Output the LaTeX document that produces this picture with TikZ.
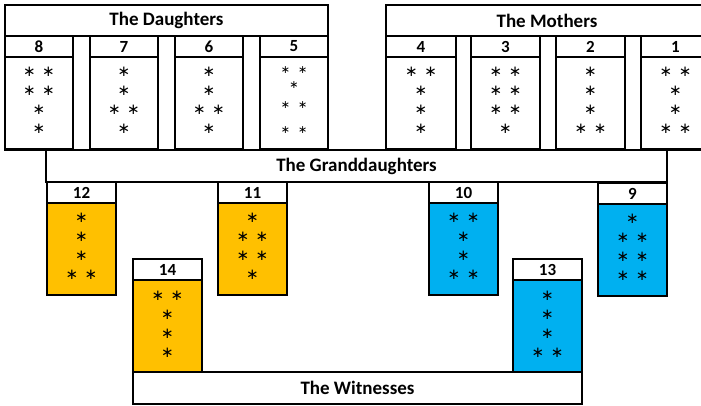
\documentclass[tikz,border=0pt]{standalone}
\usepackage{fontspec}
\setmainfont{Carlito}
\newfontfamily\starfont{DejaVu Sans}
\usetikzlibrary{positioning}

\definecolor{gdorange}{HTML}{FFC000}
\definecolor{gdblue}{HTML}{00B0F0}
\newcommand\onest{∗}
\newcommand\twost{∗\kern6.5pt∗}
\newcommand\twosm{∗\kern8pt∗}

\begin{document}
\begin{tikzpicture}[
      x=1pt,y=-1pt,
      box/.style={draw,line width=2.6pt,inner sep=0pt,outer sep=0pt,fill=white},
      hdr/.style={box,anchor=north west,font=\fontsize{19}{22}\selectfont\bfseries},
      num/.style={box,anchor=north west,minimum height=21pt,
                  font=\fontsize{17}{20}\selectfont\bfseries},
      stars/.style={box,minimum height=92pt,align=center,
                    font=\starfont\fontsize{15}{19}\selectfont,
                    execute at end node={\rule[-5pt]{0pt}{5pt}}},
    ]
    \useasboundingbox (0,0) rectangle (701,406);

    % ── The Daughters ──────────────────────────────────────────────────────
    \node[box,anchor=north west,minimum width=323pt,minimum height=114pt] (dbase) at (5,36) {};
    \node[hdr,minimum width=323pt,minimum height=31pt] (dhead) at (5,5) {The Daughters};

    \node[num,minimum width=68pt] (n8) at (5,36)   {8};
    \node[stars,minimum width=68pt,below=0pt of n8] (s8) {\twost\\ \twost\\ \onest\\ \onest};
    \node[num,minimum width=68pt] (n7) at (90,36)  {7};
    \node[stars,minimum width=68pt,below=0pt of n7] (s7) {\onest\\ \onest\\ \twost\\ \onest};
    \node[num,minimum width=68pt] (n6) at (175,36) {6};
    \node[stars,minimum width=68pt,below=0pt of n6] (s6) {\onest\\ \onest\\ \twost\\ \onest};
    \node[num,minimum width=68pt] (n5) at (260,36) {5};
    \node[stars,minimum width=68pt,below=0pt of n5,execute at end node={},
          font=\starfont\fontsize{11}{15}\selectfont]
          (s5) {\twosm\\ \onest\\[5pt] \twosm\\[10pt] \twosm};

    % ── The Mothers ────────────────────────────────────────────────────────
    \node[box,anchor=north west,minimum width=330pt,minimum height=114pt] (mbase) at (386,36) {};
    \node[hdr,minimum width=322pt,minimum height=31pt] (mhead) at (386,5) {The Mothers};

    \node[num,minimum width=70pt] (n4) at (386,36) {4};
    \node[stars,minimum width=70pt,below=0pt of n4] (s4) {\twost\\ \onest\\ \onest\\ \onest};
    \node[num,minimum width=69pt] (n3) at (471,36) {3};
    \node[stars,minimum width=69pt,below=0pt of n3] (s3) {\twost\\ \twost\\ \twost\\ \onest};
    \node[num,minimum width=69pt] (n2) at (556,36) {2};
    \node[stars,minimum width=69pt,below=0pt of n2] (s2) {\onest\\ \onest\\ \onest\\ \twost};
    \node[num,minimum width=69pt] (n1) at (641,36) {1};
    \node[stars,minimum width=69pt,below=0pt of n1] (s1) {\twost\\ \onest\\ \onest\\ \twost};

    % ── The Granddaughters ─────────────────────────────────────────────────
    \node[hdr,minimum width=621pt,minimum height=32pt] (ghead) at (46,150) {The Granddaughters};

    \node[num,minimum width=69pt] (n12) at (47,182) {12};
    \node[stars,minimum width=69pt,below=0pt of n12,fill=gdorange] (s12) {\onest\\ \onest\\ \onest\\ \twost};
    \node[num,minimum width=69pt] (n11) at (218,182) {11};
    \node[stars,minimum width=69pt,below=0pt of n11,fill=gdorange] (s11) {\onest\\ \twost\\ \twost\\ \onest};
    \node[num,minimum width=69pt] (n10) at (429,182) {10};
    \node[stars,minimum width=69pt,below=0pt of n10,fill=gdblue] (s10) {\twost\\ \onest\\ \onest\\ \twost};
    \node[num,minimum width=69pt] (n9) at (598,183) {9};
    \node[stars,minimum width=69pt,below=0pt of n9,fill=gdblue] (s9) {\onest\\ \twost\\ \twost\\ \twost};

    % ── The Witnesses ──────────────────────────────────────────────────────
    \node[num,minimum width=69pt] (n14) at (133,259) {14};
    \node[stars,minimum width=69pt,below=0pt of n14,fill=gdorange,minimum height=93pt]
          (s14) {\twost\\ \onest\\ \onest\\ \onest};
    \node[num,minimum width=69pt] (n13) at (513,259) {13};
    \node[stars,minimum width=69pt,below=0pt of n13,fill=gdblue,minimum height=93pt]
          (s13) {\onest\\ \onest\\ \onest\\ \twost};

    \node[hdr,minimum width=449pt,minimum height=32pt] (whead) at (133,372) {The Witnesses};

  \end{tikzpicture}
\end{document}
